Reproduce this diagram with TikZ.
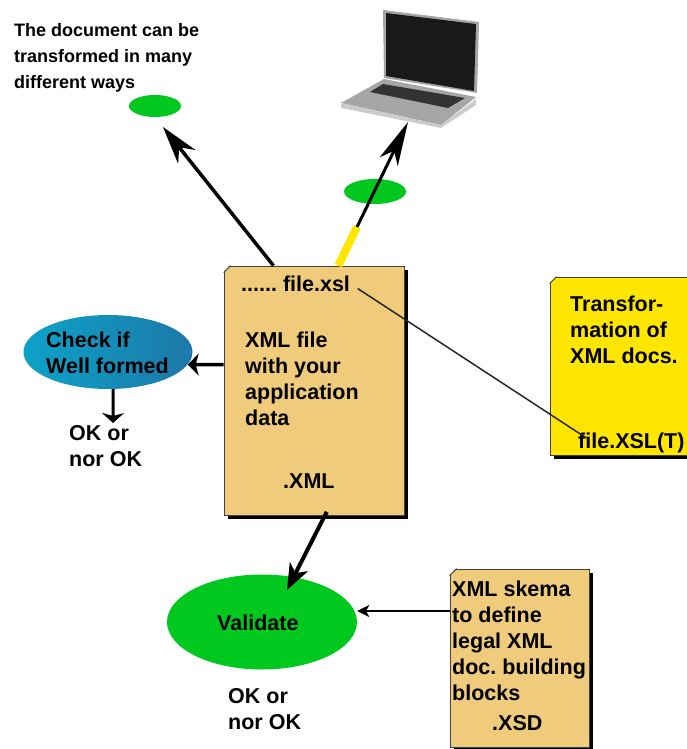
\documentclass[tikz,border=0pt]{standalone}
\usepackage{fontspec}
\setmainfont{Liberation Sans}
\usetikzlibrary{arrows.meta,shapes.geometric,shadows}
\definecolor{paper}{HTML}{EFCB7B}
\definecolor{xslyellow}{HTML}{FFE600}
\definecolor{okgreen}{HTML}{00C81E}
\definecolor{wellleft}{HTML}{0DA2C8}
\definecolor{wellright}{HTML}{1C78A8}
\begin{document}
\frenchspacing
\begin{tikzpicture}
    [x=1pt,y=-1pt,
    docbox/.style={draw=black!75, line width=0.8pt, rectangle,
      inner sep=0pt,
      drop shadow={shadow xshift=3.5pt, shadow yshift=-3.5pt, fill=black, opacity=1}},
    blob/.style={ellipse, inner sep=0pt, fill=okgreen},
    words/.style={inner sep=0pt, anchor=north west, align=left,
      font=\fontsize{21.5}{26}\selectfont\bfseries}]
    \useasboundingbox (0,0) rectangle (687,749);
    \def \lw {3.5pt}
    \def \cut {7} % size of the cut corner

    % boxes
    \node[docbox, fill=paper, minimum width=180pt, minimum height=249pt] (xmlfile) at (314,390.5) {};
    \node[docbox, fill=xslyellow, minimum width=150pt, minimum height=178pt] (xslbox) at (625,366) {};
    \node[docbox, fill=paper, minimum width=139pt, minimum height=178pt] (xsdbox) at (519.5,658) {};
    \foreach \doc in {xmlfile,xslbox,xsdbox}
    {
      \fill[white] ([shift={(-1,-1)}]\doc.north west) -- ++(\cut+1,0) -- ++(-\cut-1,\cut+1) -- cycle;
      \draw[black!75, line width=0.8pt] (\doc.north west) ++(\cut,0) -- ++(-\cut,\cut);
    }

    % ellipses
    \node[blob, minimum width=52pt, minimum height=22pt] (target) at (155,106) {};
    \node[blob, minimum width=62pt, minimum height=25pt] (webtarget) at (375,191.5) {};
    \node[ellipse, inner sep=0pt, left color=wellleft, right color=wellright,
      minimum width=169pt, minimum height=74pt] (checkwell) at (108,352) {};
    \node[blob, minimum width=190pt, minimum height=95pt] (validate) at (262,622) {};

    % laptop
    \fill[black!35] (383,10) -- (479,22) -- (477,93) -- (384,78) -- cycle;
    \fill[black!90] (386,13) -- (476,24) -- (474,91) -- (386,76) -- cycle;
    \fill[black!35] (341,103) -- (384,79) -- (476,97) -- (441,125) -- cycle;
    \fill[black!20] (341,103) -- (441,125) -- (476,99) -- (476,105) -- (441,128) -- (341,108) -- cycle;
    \fill[black!80] (370,92) -- (383,84) -- (465,98) -- (448,108) -- cycle;
    \coordinate (laptop) at (408,122);
    \coordinate (targettip) at (163,127);
    \coordinate (yellowend) at (357,227);

    % texts
    \node[words, font=\fontsize{18}{26.3}\selectfont\bfseries] (title) at (14,23) {The document can be\\transformed in many\\different ways};
    \node[words] (xslname) at (241,275.5) {...... file.xsl};
    \node[words] (xmltext) at (245,331.5) {XML file\\with your\\application\\data};
    \node[words] (xmlext) at (283,473.5) {.XML};
    \node[words] (checktext) at (46,331.5) {Check if\\Well formed};
    \node[words] (okone) at (69,425.5) {OK or\\nor OK};
    \node[words] (validtext) at (217,614.5) {Validate};
    \node[words] (oktwo) at (228,688.5) {OK or\\nor OK};
    \node[words] (xsltext) at (570,295.5) {Transfor-\\mation of\\XML docs.};
    \node[words] (xslfile) at (578,432.5) {file.XSL(T)};
    \node[words] (xsdtext) at (452,581) {XML skema\\to define\\legal XML\\doc. building\\blocks};
    \node[words] (xsdext) at (492,715) {.XSD};

    % connectors
    \draw[-{Stealth[length=38pt,width=22pt,inset=12pt]}, line width=\lw] (xmlfile.108.2) -- (targettip);
    \draw[xslyellow, line width=8pt] (xmlfile.79) -- (yellowend);
    \draw[-{Stealth[length=44pt,width=20pt,inset=12pt]}, line width=3pt] (yellowend) -- (laptop);
    \draw[-{Stealth[length=11pt,width=22pt,inset=3pt]}, line width=\lw] (xmlfile.164.2) -- (checkwell.-9);
    \draw[-{Stealth[length=10pt,width=22pt,inset=3pt]}, line width=3pt] (checkwell.-82.3) -- (113,423);
    \draw[-{Stealth[length=26pt,width=20pt,inset=7pt]}, line width=4pt, shorten <=-4pt] (xmlfile.-85.9) -- (287,590);
    \draw[-{Stealth[length=12pt,width=12pt,inset=3pt]}, line width=1.6pt] (xsdbox.west |- 450,611) -- (validate.east |- 450,611);
    \draw[line width=1.5pt, black!85, shorten <=9pt, shorten >=-10pt] (xslname.east) -- (xslfile.north west);
\end{tikzpicture}
\end{document}
